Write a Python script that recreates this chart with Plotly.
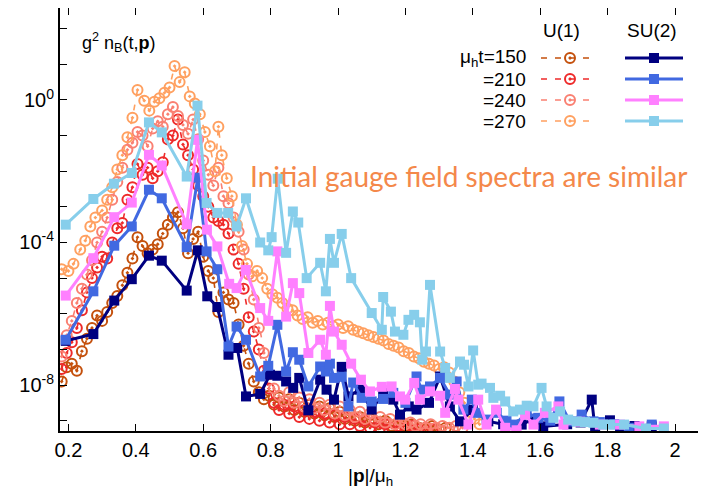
import numpy as np
import plotly.graph_objects as go

# ---------------- DATA (log10 of g^2 n_B) ----------------
# U(1), mu_h t = 150
u1_t150_p = [0.180,0.195,0.210,0.225,0.240,0.255,0.270,0.285,0.300,0.315,0.330,0.345,0.360,0.375,0.390,0.405,0.420,0.435,0.450,0.465,0.480,0.495,0.510,0.525,0.540,0.555,0.570,0.585,0.600,0.615,0.630,0.645,0.660,0.675,0.690,0.705,0.720,0.735,0.750,0.765,0.780,0.795,0.810,0.825,0.840,0.855,0.870,0.885,0.900,0.915,0.930,0.945,0.960,0.975,0.990,1.005,1.020,1.035,1.050,1.065,1.080,1.100,1.120,1.140,1.160,1.180,1.200,1.220,1.240,1.260,1.280,1.300,1.320]
u1_t150_lg = [-7.90,-7.50,-7.40,-7.60,-7.05,-6.70,-6.40,-6.05,-6.20,-5.95,-5.70,-5.50,-5.20,-4.85,-4.45,-3.85,-4.10,-4.30,-4.20,-4.05,-3.75,-3.50,-3.30,-3.15,-3.60,-4.30,-3.90,-3.70,-4.40,-4.80,-5.00,-5.95,-5.40,-5.60,-5.70,-6.30,-6.90,-7.40,-7.90,-8.20,-8.40,-8.30,-8.55,-8.35,-8.60,-8.40,-8.70,-8.50,-8.75,-8.55,-8.80,-8.60,-8.85,-8.65,-8.90,-8.75,-8.95,-8.80,-9.00,-8.90,-9.05,-8.95,-9.10,-9.00,-9.15,-9.05,-9.15,-9.10,-9.20,-9.25,-9.15,-9.25,-9.20]

# U(1), mu_h t = 210
u1_t210_p = [0.180,0.195,0.210,0.225,0.240,0.255,0.270,0.285,0.300,0.315,0.330,0.345,0.360,0.375,0.390,0.405,0.420,0.435,0.450,0.465,0.480,0.495,0.510,0.525,0.540,0.555,0.570,0.585,0.600,0.615,0.630,0.645,0.660,0.675,0.690,0.705,0.720,0.735,0.750,0.765,0.780,0.795,0.810,0.825,0.840,0.855,0.870,0.885,0.900,0.915,0.930,0.945,0.960,0.975,0.990,1.005,1.020,1.035,1.050,1.065,1.080,1.095,1.110,1.125,1.140,1.160,1.180,1.200,1.220,1.240,1.260,1.280]
u1_t210_lg = [-7.55,-7.10,-6.80,-6.40,-5.90,-5.40,-5.00,-4.70,-4.40,-4.45,-4.00,-3.60,-3.45,-2.80,-2.45,-1.80,-2.10,-1.90,-2.20,-2.00,-1.75,-1.10,-1.00,-0.55,-1.25,-1.55,-1.95,-2.40,-2.70,-3.00,-3.30,-3.40,-3.50,-3.75,-4.20,-4.60,-5.30,-6.10,-6.50,-7.00,-7.60,-8.10,-8.50,-8.70,-8.55,-8.80,-8.60,-8.90,-8.70,-8.95,-8.75,-9.00,-8.80,-9.05,-8.85,-9.10,-8.90,-9.10,-8.95,-9.15,-9.00,-9.20,-9.05,-9.20,-9.10,-9.20,-9.15,-9.25,-9.15,-9.25,-9.20,-9.25]

# U(1), mu_h t = 240
u1_t240_p = [0.180,0.195,0.210,0.225,0.240,0.255,0.270,0.285,0.300,0.315,0.330,0.345,0.360,0.375,0.390,0.405,0.420,0.435,0.450,0.465,0.480,0.495,0.510,0.525,0.540,0.555,0.570,0.585,0.600,0.615,0.630,0.645,0.660,0.675,0.690,0.705,0.720,0.735,0.750,0.765,0.780,0.795,0.810,0.825,0.840,0.855,0.870,0.885,0.900,0.915,0.930,0.945,0.960,0.975,0.990,1.005,1.020,1.035,1.050,1.065,1.080,1.095,1.110,1.125,1.140,1.155,1.170,1.185,1.200,1.215,1.230,1.245,1.260,1.275,1.290,1.310,1.330,1.350,1.370]
u1_t240_lg = [-7.20,-6.60,-6.20,-5.70,-5.30,-4.90,-4.50,-4.00,-3.70,-3.30,-2.80,-2.30,-1.90,-1.40,-1.20,-0.90,-1.00,-1.30,-0.80,-0.60,-0.75,-0.40,-0.20,-0.45,-0.70,-0.95,-0.55,-1.10,-1.70,-2.10,-2.40,-1.90,-2.70,-2.90,-3.30,-3.70,-4.20,-4.90,-5.60,-6.40,-7.10,-7.70,-8.10,-8.30,-8.45,-8.20,-8.50,-8.35,-8.60,-8.40,-8.65,-8.50,-8.70,-8.55,-8.80,-8.60,-8.85,-8.70,-8.90,-8.75,-8.95,-8.80,-9.00,-8.90,-9.05,-8.95,-9.10,-9.00,-9.10,-9.05,-9.15,-9.10,-9.20,-9.10,-9.20,-9.15,-9.20,-9.15,-9.20]

# U(1), mu_h t = 270
u1_t270_p = [0.180,0.200,0.215,0.235,0.250,0.265,0.280,0.300,0.315,0.330,0.345,0.360,0.375,0.390,0.405,0.425,0.440,0.455,0.470,0.485,0.500,0.515,0.530,0.545,0.560,0.575,0.590,0.605,0.620,0.635,0.645,0.655,0.670,0.685,0.700,0.715,0.730,0.745,0.760,0.775,0.790,0.805,0.820,0.835,0.850,0.865,0.880,0.895,0.910,0.925,0.940,0.955,0.970,0.985,1.000,1.015,1.030,1.045,1.060,1.075,1.090,1.105,1.120,1.135,1.150,1.165,1.180,1.195,1.210,1.225,1.240,1.255,1.270,1.285,1.300,1.315,1.330,1.345,1.360,1.375,1.390,1.405,1.420]
u1_t270_lg = [-4.75,-4.80,-4.60,-4.20,-3.95,-3.55,-3.30,-3.10,-2.80,-2.45,-1.95,-1.55,-1.05,-0.50,0.28,-0.02,-0.30,-0.05,0.05,0.20,0.35,0.95,0.50,0.78,0.10,-0.10,-0.40,-0.90,-1.30,-2.00,-0.75,-1.55,-2.20,-2.70,-3.50,-4.10,-4.60,-4.95,-4.80,-5.00,-5.30,-5.45,-5.55,-5.70,-5.85,-5.90,-6.05,-6.15,-6.10,-6.25,-6.20,-6.30,-6.25,-6.35,-6.30,-6.40,-6.35,-6.45,-6.50,-6.55,-6.60,-6.65,-6.70,-6.75,-6.85,-6.90,-6.95,-7.05,-7.10,-7.20,-7.25,-7.35,-7.40,-7.45,-7.55,-7.50,-7.65,-7.90,-8.20,-8.50,-8.75,-8.95,-9.10]

# SU(2), mu_h t = 150
su2_t150_p = [0.192,0.274,0.336,0.388,0.439,0.477,0.551,0.584,0.612,0.642,0.675,0.701,0.727,0.769,0.798,0.820,0.846,0.867,0.885,0.912,0.947,0.966,0.988,1.011,1.031,1.065,1.100,1.134,1.164,1.184,1.210,1.233,1.270,1.303,1.332,1.362,1.400,1.446,1.490,1.545,1.580,1.609,1.680,1.720,1.753,1.763,1.807,1.837,1.880,1.931]
su2_t150_lg = [-6.76,-6.57,-5.63,-5.03,-4.37,-4.51,-5.35,-4.22,-5.51,-5.81,-7.15,-6.96,-8.32,-8.25,-7.71,-7.74,-7.90,-8.08,-7.80,-8.71,-7.85,-8.13,-8.41,-7.49,-8.32,-8.13,-8.69,-8.22,-8.41,-8.83,-8.60,-8.69,-8.50,-7.76,-8.60,-9.02,-8.70,-9.02,-9.10,-9.11,-8.95,-9.16,-9.10,-9.05,-8.41,-9.25,-8.99,-9.20,-9.15,-9.16]

# SU(2), mu_h t = 210
su2_t210_p = [0.192,0.274,0.336,0.388,0.439,0.477,0.551,0.584,0.610,0.642,0.675,0.699,0.727,0.769,0.793,0.820,0.846,0.866,0.885,0.912,0.947,0.964,0.976,0.988,1.011,1.031,1.045,1.070,1.100,1.134,1.164,1.200,1.233,1.248,1.273,1.303,1.332,1.352,1.372,1.397,1.412,1.441,1.471,1.500,1.525,1.560,1.594,1.630,1.657,1.688,1.723,1.758,1.777,1.820,1.863,1.931]
su2_t210_lg = [-6.73,-5.37,-4.09,-3.55,-2.52,-2.76,-4.13,-2.18,-4.25,-4.75,-6.92,-6.36,-6.73,-7.76,-7.46,-6.31,-7.62,-7.08,-7.29,-8.04,-7.48,-7.62,-7.40,-7.80,-7.77,-8.60,-7.93,-8.36,-8.46,-8.39,-8.22,-8.50,-7.76,-8.13,-8.04,-7.80,-8.27,-7.90,-8.69,-8.41,-8.78,-8.97,-8.78,-9.00,-9.11,-8.78,-8.92,-9.00,-8.46,-9.02,-8.83,-9.02,-9.04,-9.10,-9.20,-9.11]

# SU(2), mu_h t = 240
su2_t240_p = [0.192,0.274,0.336,0.388,0.439,0.477,0.551,0.583,0.611,0.642,0.677,0.699,0.726,0.769,0.793,0.820,0.846,0.866,0.885,0.912,0.947,0.964,0.976,0.988,1.011,1.039,1.068,1.095,1.130,1.159,1.184,1.199,1.226,1.243,1.273,1.303,1.318,1.347,1.357,1.387,1.416,1.441,1.469,1.496,1.530,1.555,1.580,1.614,1.654,1.669,1.718,1.777,1.837,1.894,1.967]
su2_t240_lg = [-5.49,-4.44,-3.29,-2.88,-1.54,-1.84,-3.49,-1.12,-3.64,-4.11,-5.16,-5.28,-4.77,-5.84,-6.20,-4.25,-6.08,-5.14,-5.42,-7.10,-6.73,-7.15,-5.78,-6.50,-6.87,-7.40,-7.85,-8.18,-8.05,-8.04,-8.32,-8.41,-7.94,-8.41,-8.18,-8.30,-8.78,-8.11,-8.41,-9.11,-8.41,-9.11,-8.69,-9.20,-9.27,-8.83,-9.11,-8.78,-8.60,-9.11,-9.03,-9.11,-9.11,-9.16,-9.16]

# SU(2), mu_h t = 270
su2_t270_p = [0.192,0.274,0.335,0.388,0.439,0.477,0.551,0.583,0.610,0.642,0.674,0.699,0.727,0.769,0.793,0.803,0.821,0.846,0.866,0.882,0.907,0.947,0.964,0.976,0.988,1.011,1.039,1.100,1.130,1.134,1.157,1.169,1.194,1.209,1.226,1.243,1.250,1.261,1.273,1.303,1.318,1.332,1.362,1.374,1.387,1.401,1.416,1.426,1.451,1.461,1.481,1.496,1.520,1.540,1.560,1.580,1.604,1.619,1.639,1.659,1.683,1.708,1.733,1.758,1.787,1.807,1.849,1.914,1.967]
su2_t270_lg = [-3.50,-2.78,-2.35,-2.05,-0.63,-0.91,-2.15,-0.16,-2.89,-3.17,-3.17,-3.55,-2.76,-4.00,-4.22,-3.85,-2.21,-4.29,-3.13,-3.44,-5.00,-4.57,-5.37,-3.90,-4.57,-3.76,-5.00,-5.98,-6.45,-5.53,-5.94,-6.50,-6.59,-6.17,-6.03,-6.24,-7.29,-7.06,-5.19,-7.06,-7.52,-7.80,-7.34,-7.43,-8.04,-7.03,-7.99,-7.96,-8.08,-8.36,-8.30,-8.46,-8.74,-8.69,-8.58,-8.60,-8.08,-8.60,-8.92,-8.74,-8.97,-9.02,-9.04,-9.06,-9.11,-9.11,-9.11,-9.22,-9.22]

legend_times = ["μ<sub>h</sub>t=150", "=210", "=240", "=270"]
x_tick_vals = [0.2, 0.4, 0.6, 0.8, 1.0, 1.2, 1.4, 1.6, 1.8, 2.0]
x_tick_text = ["0.2", "0.4", "0.6", "0.8", "1", "1.2", "1.4", "1.6", "1.8", "2"]
y_decades = list(range(-9, 3))
y_labelled = {0: "10<sup>0</sup>", -4: "10<sup>-4</sup>", -8: "10<sup>-8</sup>"}

# ---------------- STYLE ----------------
u1_colors = ["#C4500C", "#EE2A2A", "#FA8072", "#FFA060"]
su2_colors = ["#000080", "#4169E1", "#FF80FF", "#87CEEB"]
FONT = "Liberation Sans, Arial, sans-serif"
# the page body adds an 8px offset, so the figure is 8px smaller than the window
W, H = 698, 488
L, R, T, B = 52, 0, 0, 65
# plot-area box in window pixels (for the overlay used by legend / labels)
PX_L, PX_R, PX_T, PX_B = 60, 706, 8, 431
X_RANGE = [0.175, 2.092]
Y_RANGE = [-9.29, 2.58]
DASH = "6px,8px"

fig = go.Figure()

u1_sets = [(u1_t150_p, u1_t150_lg), (u1_t210_p, u1_t210_lg),
           (u1_t240_p, u1_t240_lg), (u1_t270_p, u1_t270_lg)]
su2_sets = [(su2_t150_p, su2_t150_lg), (su2_t210_p, su2_t210_lg),
            (su2_t240_p, su2_t240_lg), (su2_t270_p, su2_t270_lg)]

for (p, lg), c in zip(u1_sets, u1_colors):
    fig.add_trace(go.Scatter(
        x=p, y=10.0 ** np.array(lg), mode="lines+markers",
        line=dict(color=c, width=1.6, dash=DASH),
        marker=dict(symbol="circle-open-dot", size=10, color=c, line=dict(width=2, color=c)),
        showlegend=False, cliponaxis=True))

for (p, lg), c in zip(su2_sets, su2_colors):
    fig.add_trace(go.Scatter(
        x=p, y=10.0 ** np.array(lg), mode="lines+markers",
        line=dict(color=c, width=3),
        marker=dict(symbol="square", size=10, color=c),
        showlegend=False, cliponaxis=True))

# invisible trace so the mirrored right-hand tick axis is drawn
fig.add_trace(go.Scatter(x=[1.0], y=[1.0], yaxis="y2", mode="markers",
                         marker=dict(opacity=0), showlegend=False, hoverinfo="skip"))

# ---------------- legend (drawn in a pixel-coordinate overlay axis) ----------------
row_y = [58, 79, 100, 121]
for i, yy in enumerate(row_y):
    fig.add_trace(go.Scatter(x=[541, 591], y=[yy, yy], xaxis="x3", yaxis="y3", mode="lines",
                             line=dict(color=u1_colors[i], width=1.6, dash=DASH),
                             showlegend=False, hoverinfo="skip"))
    fig.add_trace(go.Scatter(x=[570], y=[yy], xaxis="x3", yaxis="y3", mode="markers",
                             marker=dict(symbol="circle-open-dot", size=10, color=u1_colors[i],
                                         line=dict(width=2, color=u1_colors[i])),
                             showlegend=False, hoverinfo="skip"))
    fig.add_trace(go.Scatter(x=[625, 683], y=[yy, yy], xaxis="x3", yaxis="y3", mode="lines",
                             line=dict(color=su2_colors[i], width=3),
                             showlegend=False, hoverinfo="skip"))
    fig.add_trace(go.Scatter(x=[654], y=[yy], xaxis="x3", yaxis="y3", mode="markers",
                             marker=dict(symbol="square", size=10, color=su2_colors[i]),
                             showlegend=False, hoverinfo="skip"))
    fig.add_annotation(x=528, y=yy, xref="x3", yref="y3", text=legend_times[i],
                       showarrow=False, xanchor="right", yanchor="middle",
                       font=dict(family=FONT, size=19, color="black"))

fig.add_annotation(x=561, y=30, xref="x3", yref="y3", text="U(1)", showarrow=False,
                   xanchor="center", yanchor="middle", font=dict(family=FONT, size=19, color="black"))
fig.add_annotation(x=652, y=30, xref="x3", yref="y3", text="SU(2)", showarrow=False,
                   xanchor="center", yanchor="middle", font=dict(family=FONT, size=19, color="black"))

fig.add_annotation(x=80, y=42, xref="x3", yref="y3",
                   text="g<sup>2</sup> n<sub>B</sub>(t,<b>p</b>)", showarrow=False,
                   xanchor="left", yanchor="middle", font=dict(family=FONT, size=18, color="black"))

fig.add_annotation(x=468, y=176, xref="x3", yref="y3",
                   text="Initial gauge field spectra are similar", showarrow=False,
                   xanchor="center", yanchor="middle",
                   font=dict(family="Lato, sans-serif", size=28, color="#F4884A"))

# x-axis title (paper coordinates, below the plot area)
plot_w, plot_h = W - L - R, H - T - B
fig.add_annotation(x=(370 - 8 - L) / plot_w, y=-(477 - 8 - (H - B)) / plot_h,
                   xref="paper", yref="paper",
                   text="|<b>p</b>|/μ<sub>h</sub>", showarrow=False, xanchor="center", yanchor="middle",
                   font=dict(family=FONT, size=19, color="black"))

axis_common = dict(ticks="inside", ticklen=7, tickwidth=1.2, tickcolor="black",
                   showgrid=False, zeroline=False)

fig.update_layout(
    width=W, height=H,
    margin=dict(l=L, r=R, t=T, b=B, pad=0, autoexpand=False),
    plot_bgcolor="rgba(0,0,0,0)", paper_bgcolor="white",
    font=dict(family=FONT, size=20, color="black"),
    xaxis=dict(range=X_RANGE, tickvals=x_tick_vals, ticktext=x_tick_text,
               showline=True, linecolor="black", linewidth=2, mirror="ticks",
               tickfont=dict(size=20), automargin=False, **axis_common),
    yaxis=dict(type="log", range=Y_RANGE, tickvals=[10.0 ** d for d in y_decades],
               ticktext=[y_labelled.get(d, "") for d in y_decades],
               showline=True, linecolor="black", linewidth=2, mirror=False,
               tickfont=dict(size=20), automargin=False, **axis_common),
    yaxis2=dict(type="log", range=Y_RANGE, overlaying="y", side="right",
                tickvals=[10.0 ** d for d in y_decades], showticklabels=False,
                showline=False, automargin=False, **axis_common),
    xaxis3=dict(domain=[0, 1], range=[PX_L, PX_R], anchor="y3", overlaying="x",
                visible=False, fixedrange=True),
    yaxis3=dict(domain=[0, 1], range=[PX_B, PX_T], anchor="x3", overlaying="y",
                visible=False, fixedrange=True),
)

fig.write_html("out.html")
